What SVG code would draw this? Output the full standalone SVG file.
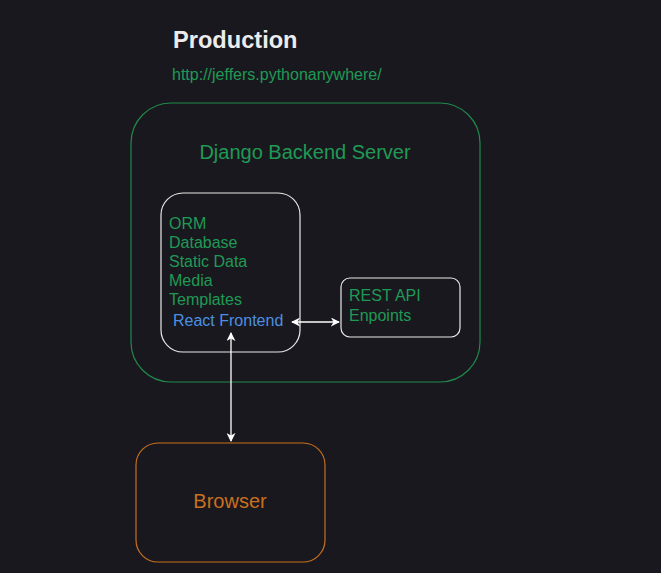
<svg xmlns="http://www.w3.org/2000/svg" width="661" height="573" viewBox="0 0 661 573">
<style>
text{font-family:"Liberation Sans",Arial,sans-serif}
.g{fill:#1f9a55}
.conn{stroke:#ffffff;stroke-width:1.3;fill:none}
</style>
<defs>
<marker id="ah" viewBox="0 0 10 10" refX="9" refY="5" markerWidth="9" markerHeight="9" orient="auto-start-reverse" markerUnits="userSpaceOnUse">
<path d="M0,0 L10,5 L0,10 L3,5 Z" fill="#ffffff"/>
</marker>
</defs>
<rect width="661" height="573" fill="#1a181f"/>
<g id="title">
<text x="173" y="48" font-size="23.6" font-weight="bold" fill="#ececec">Production</text>
<text x="172" y="80" font-size="16" class="g">http://jeffers.pythonanywhere/</text>
</g>
<g id="django">
<rect x="131" y="103" width="349" height="279" rx="40" fill="none" stroke="#1f8a4c" stroke-width="1.2"/>
<text x="305" y="159" font-size="20" text-anchor="middle" class="g">Django Backend Server</text>
</g>
<g id="core">
<rect x="161" y="193" width="139" height="159" rx="22" fill="none" stroke="#e8e8e8" stroke-width="1.2"/>
<text font-size="16" class="g">
<tspan x="169" y="229">ORM</tspan>
<tspan x="169" y="248">Database</tspan>
<tspan x="169" y="267">Static Data</tspan>
<tspan x="169" y="286">Media</tspan>
<tspan x="169" y="305">Templates</tspan>
</text>
<text x="173" y="326" font-size="16" fill="#4a90e2">React Frontend</text>
</g>
<g id="rest">
<rect x="341" y="278" width="119" height="59" rx="9" fill="none" stroke="#e8e8e8" stroke-width="1.2"/>
<text font-size="16" class="g">
<tspan x="349" y="301">REST API</tspan>
<tspan x="349" y="321">Enpoints</tspan>
</text>
</g>
<g id="browser">
<rect x="136" y="443" width="189" height="119" rx="22" fill="none" stroke="#c8701e" stroke-width="1.2"/>
<text x="230" y="508" font-size="20" text-anchor="middle" fill="#c8701e">Browser</text>
</g>
<g id="connectors">
<line class="conn" x1="292" y1="322" x2="339" y2="322" marker-start="url(#ah)" marker-end="url(#ah)"/>
<line class="conn" x1="231" y1="333" x2="231" y2="441" marker-start="url(#ah)" marker-end="url(#ah)"/>
</g>
</svg>
